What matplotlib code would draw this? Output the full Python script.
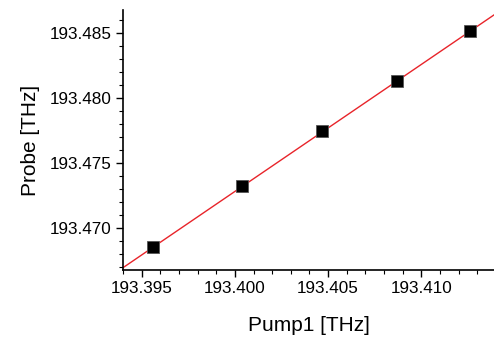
import numpy as np
import matplotlib.pyplot as plt
from matplotlib.ticker import MultipleLocator, FormatStrFormatter

plt.rcParams['font.family'] = ['Liberation Sans', 'DejaVu Sans']

# Datos
pump1 = [193.3956, 193.4004, 193.4047, 193.4087, 193.4126]
probe = [193.46854, 193.47323, 193.47746, 193.48131, 193.48515]

xlim = (193.394, 193.4139)
ylim = (193.4668, 193.4868)

# Ajuste lineal
coef = np.polyfit(pump1, probe, 1)
xfit = np.array(xlim)
yfit = np.polyval(coef, xfit)

fig = plt.figure(figsize=(4.94, 3.41), dpi=100)
ax = fig.add_axes([0.249, 0.208, 0.751, 0.763])

ax.plot(xfit, yfit, color='#e8242a', lw=1.0, zorder=2)
ax.plot(pump1, probe, 's', color='black', markersize=8.5,
        markeredgecolor='#555555', markeredgewidth=0.6, zorder=3)

ax.set_xlim(xlim)
ax.set_ylim(ylim)
ax.xaxis.set_major_locator(MultipleLocator(0.005))
ax.xaxis.set_minor_locator(MultipleLocator(0.001))
ax.yaxis.set_major_locator(MultipleLocator(0.005))
ax.yaxis.set_minor_locator(MultipleLocator(0.001))
ax.xaxis.set_major_formatter(FormatStrFormatter('%.3f'))
ax.yaxis.set_major_formatter(FormatStrFormatter('%.3f'))

ax.spines['top'].set_visible(False)
ax.spines['right'].set_visible(False)
ax.spines['left'].set_linewidth(1.2)
ax.spines['bottom'].set_linewidth(1.2)
ax.tick_params(which='major', direction='out', length=5, width=1.0, labelsize=12.3, pad=3)
ax.tick_params(which='minor', direction='out', length=3, width=0.8)

ax.set_xlabel('Pump1 [THz]', fontsize=15, labelpad=14)
ax.set_ylabel('Probe [THz]', fontsize=15, labelpad=7)

fig.savefig('out.png', dpi=100)
